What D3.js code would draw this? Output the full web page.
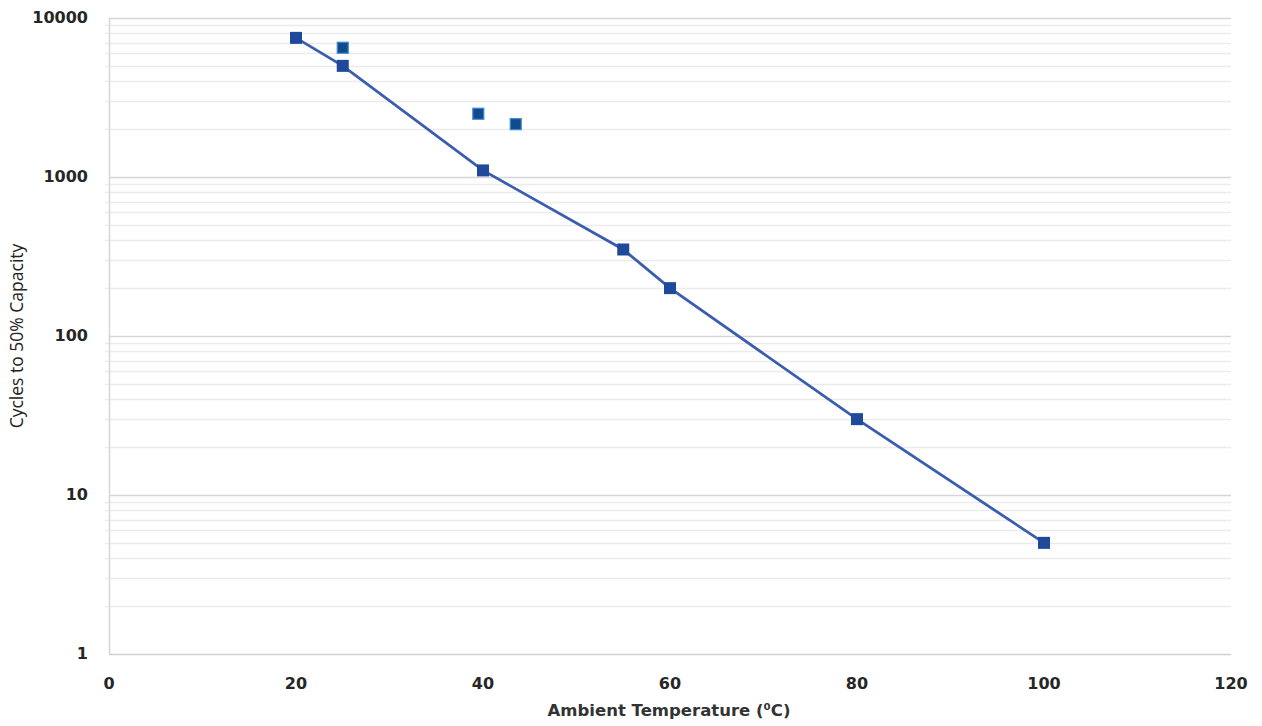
<!DOCTYPE html>
<html>
<head>
<meta charset="utf-8">
<script src="https://cdn.jsdelivr.net/npm/d3@7"></script>
<style>
  body { margin: 0; background: #fff; }
  .tick-label { font-family: "DejaVu Sans", Verdana, sans-serif; font-weight: bold; font-size: 16px; fill: #262626; }
</style>
</head>
<body>
<div class="chartContainer"></div>
<script>
// Line series: ambient temperature vs cycles to 50% capacity
var lineTemps = [20, 25, 40, 55, 60, 80, 100];
var lineCycles = [7500, 5000, 1100, 350, 200, 30, 5];
// Separate scatter points
var extraTemps = [25, 39.5, 43.5];
var extraCycles = [6500, 2500, 2150];
// Axis ticks
var xTicks = [0, 20, 40, 60, 80, 100, 120];
var yTicks = [1, 10, 100, 1000, 10000];

const W = 1262;
const H = 726;
const M = { left: 109, right: 31, top: 18, bottom: 72 };

const svg = d3.select(".chartContainer").append("svg").attr("width", W).attr("height", H);

var x = d3.scaleLinear().domain([0, 120]).range([M.left, W - M.right]);
var y = d3.scaleLog().domain([1, 10000]).range([H - M.bottom, M.top]);

// minor gridlines (2..9 per decade)
var minor = [];
for (var d = 1; d < 10000; d *= 10) {
  for (var k = 2; k <= 9; k++) minor.push(d * k);
}
svg.append("g").selectAll("line").data(minor).enter().append("line")
  .attr("x1", x(0) - 4).attr("x2", x(120))
  .attr("y1", (d) => Math.round(y(d)) + 0.5).attr("y2", (d) => Math.round(y(d)) + 0.5)
  .attr("stroke", "#ececec").attr("stroke-width", 1.5);

// major gridlines
svg.append("g").selectAll("line").data(yTicks.slice(1)).enter().append("line")
  .attr("x1", x(0)).attr("x2", x(120))
  .attr("y1", (d) => Math.round(y(d)) + 0.5).attr("y2", (d) => Math.round(y(d)) + 0.5)
  .attr("stroke", "#d6d6d6").attr("stroke-width", 1.5);

// axes lines
svg.append("line").attr("x1", x(0) + 0.5).attr("x2", x(0) + 0.5)
  .attr("y1", y(10000)).attr("y2", y(1)).attr("stroke", "#d6d6d6").attr("stroke-width", 1.5);
svg.append("line").attr("x1", x(0)).attr("x2", x(120))
  .attr("y1", y(1) + 0.5).attr("y2", y(1) + 0.5).attr("stroke", "#d0d0d0").attr("stroke-width", 1.5);

// y tick labels
svg.append("g").selectAll("text").data(yTicks).enter().append("text")
  .attr("class", "tick-label")
  .attr("x", x(0) - 21).attr("y", (d) => y(d))
  .attr("dy", "0.3em")
  .attr("text-anchor", "end")
  .text((d) => d);

// x tick labels
svg.append("g").selectAll("text").data(xTicks).enter().append("text")
  .attr("class", "tick-label")
  .attr("x", (d) => x(d)).attr("y", y(1) + 35)
  .attr("text-anchor", "middle")
  .text((d) => d);

// axis titles
svg.append("text")
  .attr("x", (x(0) + x(120)) / 2 - 1).attr("y", H - 10)
  .attr("text-anchor", "middle")
  .style("font-family", "'DejaVu Sans', Verdana, sans-serif")
  .style("font-weight", "bold").style("font-size", "16.5px").style("fill", "#333")
  .text("Ambient Temperature (\u2070C)");

svg.append("text")
  .attr("transform", "translate(23," + (y(1) + y(10000)) / 2 + ") rotate(-90)")
  .attr("x", 0).attr("y", 0)
  .attr("text-anchor", "middle")
  .style("font-family", "'Open Sans', sans-serif")
  .style("font-size", "17.5px").style("fill", "#222")
  .text("Cycles to 50% Capacity");

// line series
var line = d3.line().x((d) => x(d[0])).y((d) => y(d[1]));
var lineData = lineTemps.map((t, i) => [t, lineCycles[i]]);
svg.append("path").datum(lineData)
  .attr("d", line)
  .attr("fill", "none")
  .attr("stroke", "#3a5dae")
  .attr("stroke-width", 2.8);

var s = 12;
svg.append("g").selectAll("rect").data(lineData).enter().append("rect")
  .attr("x", (d) => x(d[0]) - s / 2).attr("y", (d) => y(d[1]) - s / 2)
  .attr("width", s).attr("height", s)
  .attr("fill", "#1f4a9b");

// extra points
var extraData = extraTemps.map((t, i) => [t, extraCycles[i]]);
var s2 = 11;
svg.append("g").selectAll("rect").data(extraData).enter().append("rect")
  .attr("x", (d) => x(d[0]) - s2 / 2).attr("y", (d) => y(d[1]) - s2 / 2)
  .attr("width", s2).attr("height", s2)
  .attr("fill", "#124a8e")
  .attr("stroke", "#3b8bd0").attr("stroke-width", 1.2);
</script>
</body>
</html>
